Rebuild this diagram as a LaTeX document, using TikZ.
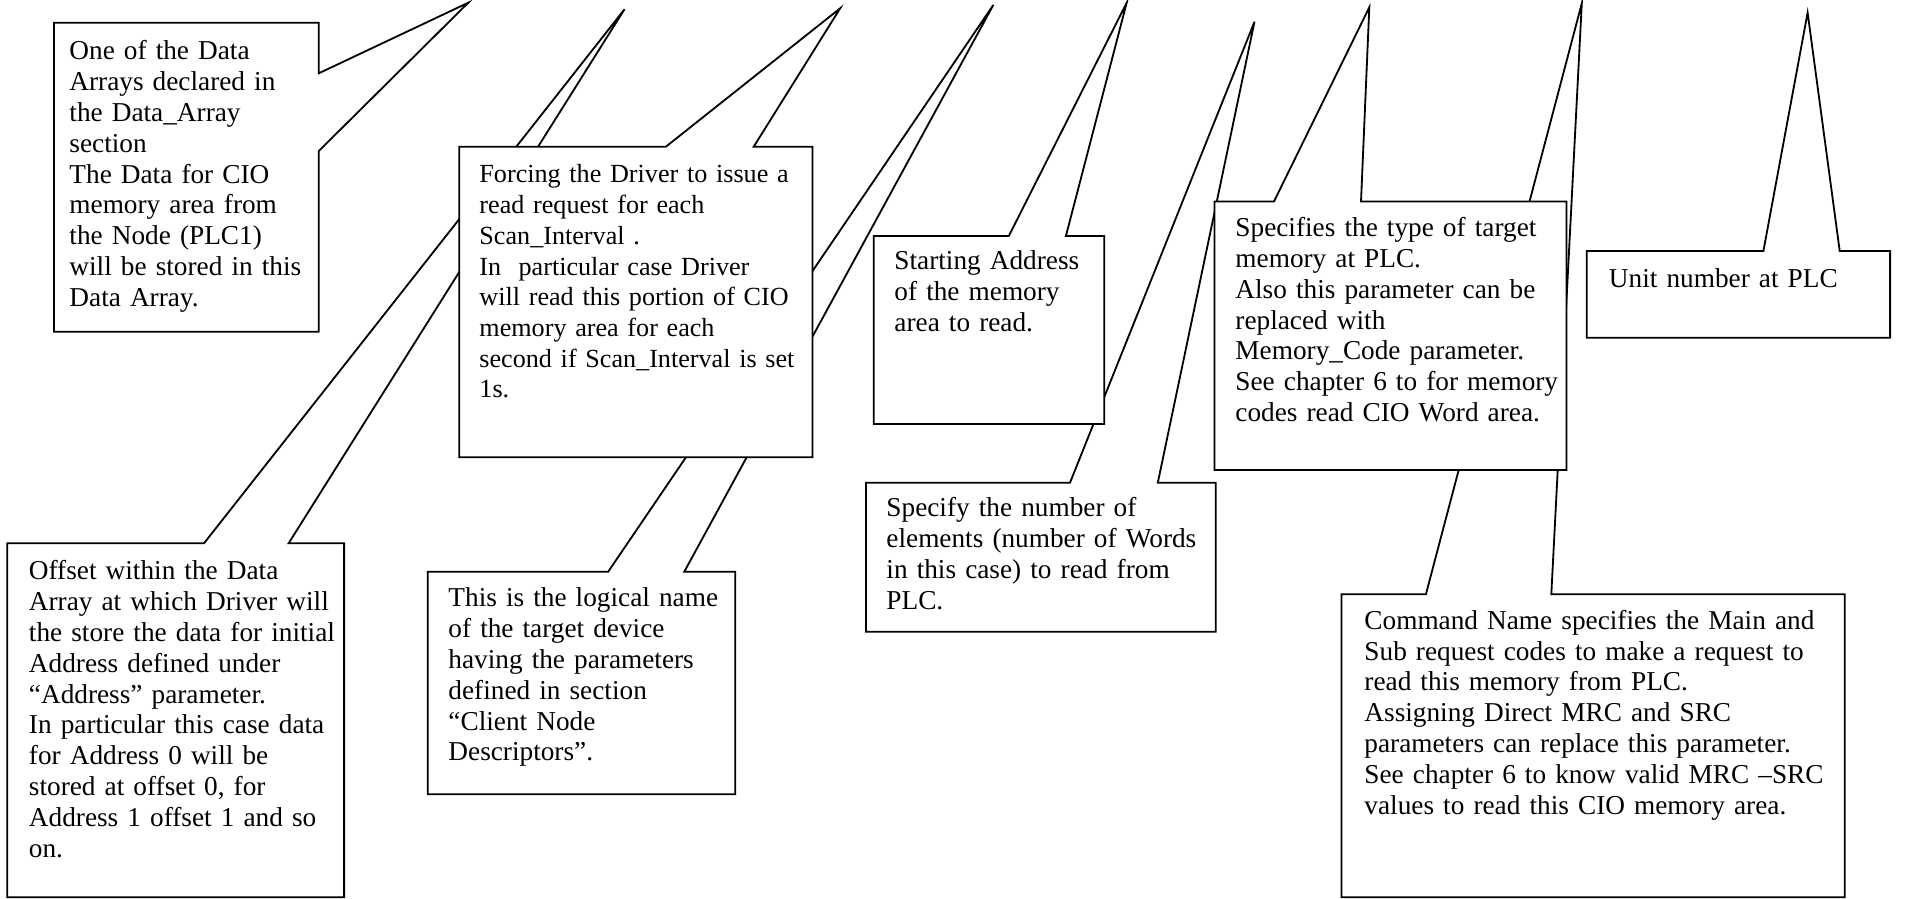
\documentclass[tikz,border=0pt]{standalone}
\usepackage{fontspec}
\setmainfont{Liberation Serif}
\begin{document}
\begin{tikzpicture}[x=0.44pt,y=-0.44pt,
  callout/.style={draw=black,fill=white,line width=0.8pt},
  note/.style={anchor=base west,inner sep=0pt,align=left,text width=10cm,
    font=\fontsize{12}{13.55}\selectfont},
  narrownote/.style={note,font=\fontsize{11.5}{13.5}\selectfont}]
\useasboundingbox[fill=white] (0,0) rectangle (1907,899);
% callout tips
\coordinate (tipA) at (468.3,2.7);
\coordinate (tipB) at (840.2,8.3);
\coordinate (tipC) at (1126.7,2.7);
\coordinate (tipD) at (624.5,9.3);
\coordinate (tipE) at (993.3,5);
\coordinate (tipF) at (1254.5,21.7);
\coordinate (tipG) at (1369.3,7.3);
\coordinate (tipH) at (1581.8,3.3);
\coordinate (tipI) at (1807.6,12.7);
% back layer
\draw[callout] (7.3,543.3) -- (204,543.3) -- (tipD) -- (288.6,543.3) -- (344.1,543.3) -- (344.1,897.3) -- (7.3,897.3) -- cycle;
\node[note] (offset) at (28.5,580) {Offset within the Data\\Array at which Driver will\\the store the data for initial\\Address defined under\\“Address” parameter.\\In particular this case data\\for Address 0 will be\\stored at offset 0, for\\Address 1 offset 1 and so\\on.};
\draw[callout] (427.8,571.7) -- (608.2,571.7) -- (tipE) -- (684.3,571.7) -- (735.3,571.7) -- (735.3,794.3) -- (427.8,794.3) -- cycle;
\node[note] (logical) at (448,607) {This is the logical name\\of the target device\\having the parameters\\defined in section\\“Client Node\\Descriptors”.};
\draw[callout] (865.9,482.7) -- (1070,482.7) -- (tipF) -- (1157.8,482.7) -- (1215.7,482.7) -- (1215.7,631.7) -- (865.9,631.7) -- cycle;
\node[note] (count) at (886,517) {Specify the number of\\elements (number of Words\\in this case) to read from\\PLC.};
\draw[callout] (1341.5,594.3) -- (1425.9,594.3) -- (tipH) -- (1551.3,594.3) -- (1844.7,594.3) -- (1844.7,897.3) -- (1341.5,897.3) -- cycle;
\node[note] (command) at (1364,629.3) {Command Name specifies the Main and\\Sub request codes to make a request to\\read this memory from PLC.\\Assigning Direct MRC and SRC\\parameters can replace this parameter.\\See chapter 6 to know valid MRC –SRC\\values to read this CIO memory area.};
% front layer
\draw[callout] (54,22.7) -- (318.8,22.7) -- (318.8,73.3) -- (tipA) -- (318.8,151) -- (318.8,331.7) -- (54,331.7) -- cycle;
\node[note] (dataarray) at (69,60) {One of the Data\\Arrays declared in\\the Data\_Array\\section\\The Data for CIO\\memory area from\\the Node (PLC1)\\will be stored in this\\Data Array.};
\draw[callout] (459.2,146.7) -- (665.9,146.7) -- (tipB) -- (753.7,146.7) -- (812.4,146.7) -- (812.4,457.3) -- (459.2,457.3) -- cycle;
\node[narrownote] (forcing) at (479,183) {Forcing the Driver to issue a\\read request for each\\Scan\_Interval .\\In\ \ particular case Driver\\will read this portion of CIO\\memory area for each\\second if Scan\_Interval is set\\1s.};
\draw[callout] (873.7,236) -- (1008.8,236) -- (tipC) -- (1065.9,236) -- (1104.3,236) -- (1104.3,424) -- (873.7,424) -- cycle;
\node[note] (start) at (894,270) {Starting Address\\of the memory\\area to read.};
\draw[callout] (1214.5,201.5) -- (1274,201.5) -- (tipG) -- (1361,201.5) -- (1566.5,201.5) -- (1566.5,470) -- (1214.5,470) -- cycle;
\node[note] (memtype) at (1235,236.7) {Specifies the type of target\\memory at PLC.\\Also this parameter can be\\replaced with\\Memory\_Code parameter.\\See chapter 6 to for memory\\codes read CIO Word area.};
\draw[callout] (1586.8,251) -- (1763.4,251) -- (tipI) -- (1839.7,251) -- (1890.1,251) -- (1890.1,337.7) -- (1586.8,337.7) -- cycle;
\node[note] (unit) at (1608.5,287.3) {Unit number at PLC};
\end{tikzpicture}
\end{document}
